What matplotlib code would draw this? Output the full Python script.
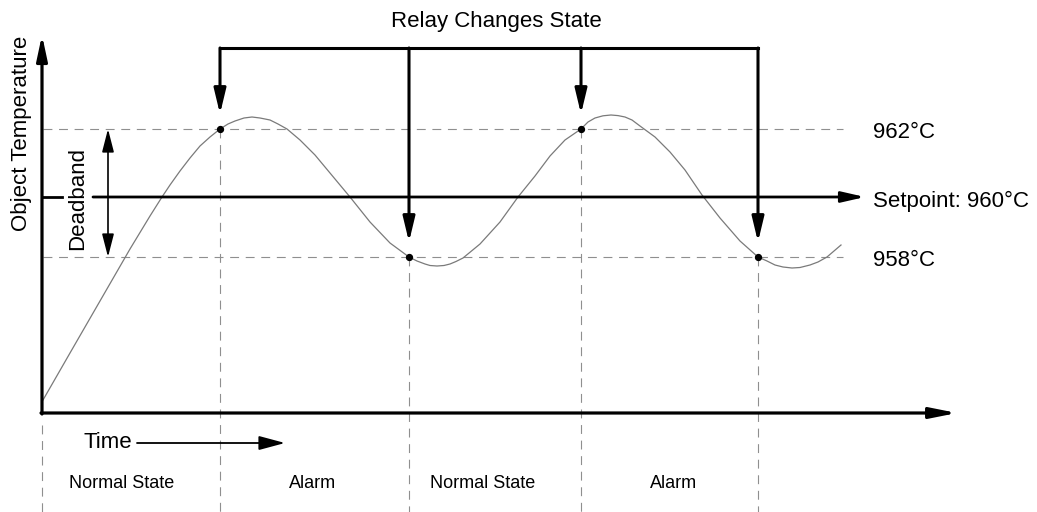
import matplotlib
matplotlib.use("Agg")
import matplotlib.pyplot as plt

# diagram units: horizontal = time position, vertical = temperature position (screen-like, down is cooler)
curve_x = [43, 70, 100, 130, 150, 162, 170, 180, 190, 200, 210, 220, 228, 235, 244, 252,
           260, 270, 278, 287, 300, 315, 330, 350, 370, 390, 409, 417, 425, 430, 437,
           444, 450, 456, 463, 480, 500, 518, 535, 550, 565, 581, 588, 595, 603, 611,
           618, 625, 632, 640, 655, 670, 685, 702, 720, 740, 758, 767, 775, 783, 792,
           800, 810, 818, 827, 841]
curve_y = [400, 353, 301, 249, 216, 197, 185, 171, 158, 146, 137, 129, 124, 121, 118, 117,
           118, 120, 124, 129, 140, 155, 173, 197, 222, 243, 257, 261, 264, 265.5, 266,
           265.5, 264, 261.5, 258, 244, 222, 197, 176, 156, 140, 129, 122, 118, 115.8, 115,
           115.6, 117, 120, 126, 137, 152, 170, 195, 218, 241, 257, 261, 265, 267, 268,
           267.5, 265, 262, 257, 245]

level_y = [129, 197, 257]
level_labels = ["962°C", "Setpoint: 960°C", "958°C"]

relay_x = [220, 409, 581, 758]
relay_y = [129, 257, 129, 257]

state_edges = [42, 220, 409, 581, 758]
state_labels = ["Normal State", "Alarm", "Normal State", "Alarm"]
state_centers = [122, 313, 483, 674]

plt.rcParams['font.family'] = ['Liberation Sans', 'DejaVu Sans']

fig = plt.figure(figsize=(10.37, 5.12), dpi=100)
ax = fig.add_axes([0, 0, 1, 1])
ax.set_xlim(0, 1037)
ax.set_ylim(512, 0)
ax.axis('off')

grey = '#8f8f8f'
dash = (0, (8, 6))


def arrow(x0, y0, x1, y1, lw=2.2, hl=15, hw=3.8, both=False):
    style = '<|-|>' if both else '-|>'
    ax.annotate('', xy=(x1, y1), xytext=(x0, y0),
                arrowprops=dict(arrowstyle=f'{style},head_length={hl},head_width={hw}',
                                mutation_scale=1, lw=lw, color='black',
                                shrinkA=0, shrinkB=0))


# dashed guide lines for the deadband limits
ax.plot([43, 843], [level_y[0], level_y[0]], color=grey, lw=0.8, linestyle=dash)
ax.plot([43, 843], [level_y[2], level_y[2]], color=grey, lw=0.8, linestyle=dash)

# dashed vertical state boundaries
ax.plot([state_edges[0], state_edges[0]], [425, 512], color=grey, lw=0.8, linestyle=dash)
for x, y in zip(relay_x, relay_y):
    ax.plot([x, x], [y, 512], color=grey, lw=0.8, linestyle=dash)

# temperature curve
ax.plot(curve_x, curve_y, color='#7a7a7a', lw=0.9)
ax.scatter(relay_x, relay_y, s=18, color='black', zorder=5)

# axes
arrow(42, 414, 42, 35, lw=2.3, hl=15, hw=3.2)
arrow(41, 413, 957, 413, lw=2.3, hl=16, hw=3.2)

# setpoint line
ax.plot([43, 62], [level_y[1], level_y[1]], color='black', lw=2.0)
arrow(93, level_y[1], 865, level_y[1], lw=2.0, hl=14, hw=3.2)

# deadband double arrow
arrow(108, level_y[0], 108, level_y[2], lw=1.2, hl=14, hw=3.6, both=True)

# relay changes state bracket
top = 48
ax.plot([relay_x[0], relay_x[-1]], [top, top], color='black', lw=2.2, solid_capstyle='projecting')
for x, y in zip(relay_x, relay_y):
    arrow(x, top, x, y - 15, lw=2.2, hl=15, hw=3.6)

# time arrow
arrow(137, 443, 285, 443, lw=1.3, hl=16, hw=4.3)

fs = 16
ax.text(496, 22, "Relay Changes State", fontsize=fs, ha='center', va='center')
ax.text(22, 133, "Object Temperature", fontsize=fs, rotation=90, ha='center', va='center')
ax.text(78, 198, "Deadband", fontsize=fs, rotation=90, ha='center', va='center')
ax.text(132, 443, "Time", fontsize=fs, ha='right', va='center')
for y, lab in zip(level_y, level_labels):
    ax.text(873, y + 4, lab, fontsize=fs, ha='left', va='center')
for x, lab in zip(state_centers, state_labels):
    ax.text(x, 483, lab, fontsize=13, ha='center', va='center')

fig.savefig('out.png', dpi=100)
